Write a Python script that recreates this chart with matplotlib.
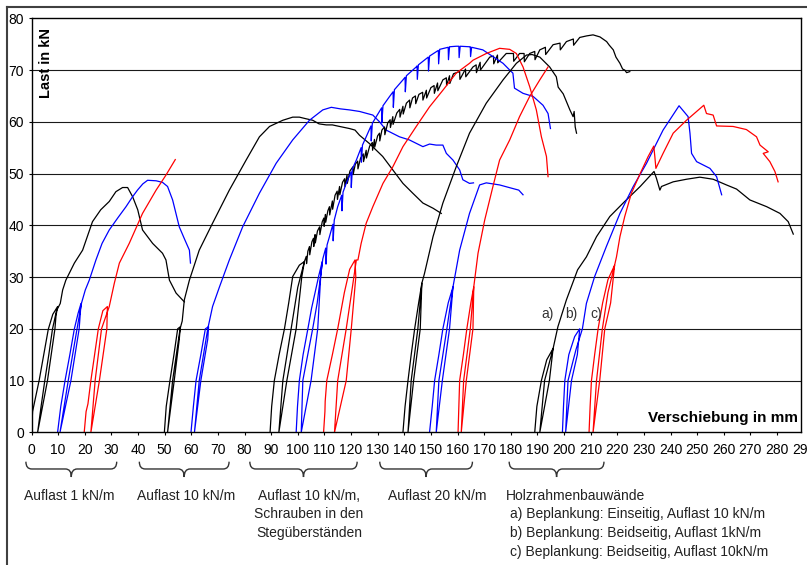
import numpy as np
import matplotlib.pyplot as plt
from matplotlib.path import Path
from matplotlib.patches import PathPatch
from matplotlib.lines import Line2D
from matplotlib.transforms import blended_transform_factory

plt.rcParams['font.family'] = ['Liberation Sans', 'DejaVu Sans']

# ---- load-displacement curves (x = Verschiebung mm, y = Last kN) ----
# Auflast 1 kN/m
g1_black = np.array([
    (0, 0), (0.4, 4.0), (1.3, 6.2), (2.9, 10.1), (4.6, 15.0), (6.3, 19.9), (8.0, 22.8), (9.8, 24.3),
    (9.2, 22.5), (8.8, 20.0), (6.0, 10.0), (2.3, 0), (3.6, 5.0), (5.0, 10.0), (6.5, 15.0), (7.9, 20.0),
    (9.4, 23.5), (10.8, 24.9), (11.7, 27.5), (12.9, 29.4), (16.1, 32.7), (19.2, 35.2), (22.9, 40.7),
    (26.0, 43.0), (29.2, 44.6), (31.7, 46.5), (34.2, 47.3), (36.1, 47.3), (38.0, 45.5), (39.9, 43.0),
    (41.7, 39.1), (45.5, 36.5), (49.2, 34.6), (50.5, 33.3), (51.8, 29.4), (54.3, 26.9), (57.4, 25.2)])
g1_blue = np.array([
    (9.8, 0), (11.0, 5), (12.6, 10), (14.4, 15), (16.1, 20), (17.5, 23), (18.6, 24.9), (17.9, 20),
    (14.8, 10), (10.7, 0), (13.8, 10), (17.1, 20), (18.8, 25.0), (20.2, 27.5), (21.7, 29.4), (24.2, 33.3),
    (26.5, 36.5), (29.2, 39.1), (32.5, 41.5), (35.5, 43.6), (37.8, 45.4), (39.8, 46.8), (41.8, 48.0),
    (43.6, 48.7), (46.8, 48.6), (49.2, 48.3), (51.1, 47.5), (53.0, 44.9), (55.5, 39.7), (57.5, 37.3),
    (59.3, 35.2), (59.7, 32.7)])
g1_red = np.array([
    (19.8, 0), (20.5, 4), (21.2, 5.5), (22.3, 10), (23.7, 15), (25.1, 20), (26.8, 23.5), (28.5, 24.3),
    (28.3, 20), (25.5, 10), (22.3, 0), (23.9, 10), (26.3, 20), (29.2, 24.3), (31.1, 28.8), (33.0, 32.7),
    (36.7, 36.5), (41.7, 42.3), (46.8, 46.8), (50.5, 49.7), (54.0, 52.7)])

# Auflast 10 kN/m
g2_black = np.array([
    (49.9, 0), (50.6, 5), (52.0, 10), (53.5, 15), (54.9, 20), (55.9, 20.4), (55.5, 18), (53.6, 10),
    (51.1, 0), (53.0, 10), (55.8, 20), (56.6, 21.5), (57.4, 25.6), (59.3, 29.4), (63.0, 35.2),
    (68.0, 40.4), (74.3, 46.8), (80.6, 52.6), (85.6, 57.1), (89.4, 59.1), (94.4, 60.3), (98.1, 60.9),
    (100.6, 60.9), (103.0, 60.6), (105.6, 60.3), (108.0, 59.6), (110.7, 59.4), (113.0, 59.4),
    (115.7, 59.1), (119.4, 58.7), (121.5, 58.4), (123.2, 57.4), (126.9, 55.8), (131.9, 53.3),
    (135.7, 50.7), (139.5, 48.1), (143.2, 46.2), (147.0, 44.3), (150.8, 43.3), (153.9, 42.3)])
g2_blue = np.array([
    (59.9, 0), (60.8, 5), (61.8, 10), (63.6, 15), (65.3, 20), (66.5, 20.4), (66.2, 18), (63.6, 10),
    (61.2, 0), (63.0, 10), (66.2, 20), (68.0, 24.3), (70.6, 28.1), (74.3, 33.3), (79.3, 39.7),
    (85.6, 46.2), (91.9, 52.0), (98.1, 56.5), (104.4, 60.3), (109.4, 62.3), (112.6, 62.8),
    (116.0, 62.5), (119.4, 62.3), (123.2, 62.0), (128.2, 61.3), (130.7, 60.0), (133.2, 58.4),
    (138.2, 57.1), (141.9, 56.5), (147.0, 55.2), (149.5, 55.7), (152.0, 55.5), (154.5, 55.5),
    (155.8, 53.9), (158.3, 52.6), (160.8, 50.7), (162.0, 48.8), (164.5, 48.1), (166.0, 48.2)])

# Auflast 10 kN/m, Schrauben in den Stegüberständen
g3_black = np.array([
    (89.6, 0), (90.2, 5), (91.2, 10), (93.0, 15), (95.0, 20), (96.6, 25), (98.1, 30.1), (100.6, 32.3),
    (102.5, 33.0), (101.5, 30), (99.4, 20), (95.9, 10), (92.9, 0), (94.4, 10), (97.5, 20), (100.0, 28),
    (102.5, 33.0), (103.2, 34.0), (103.3, 32.6), (103.8, 35.0), (104.4, 35.9), (104.5, 34.3),
    (105.3, 36.8), (105.9, 37.5), (106.0, 35.9), (106.5, 38.2), (106.6, 36.6), (107.4, 38.9),
    (108.2, 39.7), (108.3, 38.2), (109.2, 40.7), (109.8, 41.4), (109.9, 39.8), (110.4, 42.1),
    (110.5, 40.6), (111.3, 42.8), (111.9, 43.6), (112.0, 42.0), (113.0, 44.7), (113.1, 43.1),
    (114.0, 45.8), (114.8, 46.6), (114.9, 45.0), (115.7, 47.5), (115.8, 45.9), (116.8, 48.3),
    (117.6, 49.0), (117.7, 47.5), (118.5, 49.7), (118.6, 48.1), (119.6, 50.5), (120.7, 51.3),
    (120.8, 49.8), (121.6, 51.8), (122.5, 52.4), (122.6, 50.9), (123.6, 53.0), (124.6, 53.8),
    (124.7, 52.3), (125.7, 54.5), (125.8, 53.0), (127.0, 55.3), (128.0, 56.0), (128.1, 54.5),
    (128.8, 56.6), (128.9, 55.1), (130.0, 57.3), (130.7, 57.8), (130.8, 56.3), (131.6, 58.4),
    (132.6, 59.0), (132.7, 57.5), (133.8, 59.8), (134.7, 60.4), (134.8, 58.9), (135.7, 61.0),
    (135.8, 59.5), (137.2, 61.7), (138.3, 62.4), (138.4, 60.9), (139.5, 63.0), (139.6, 61.5),
    (140.8, 63.6), (142.0, 64.2), (142.1, 62.7), (143.1, 64.6), (144.2, 65.0), (144.3, 63.5),
    (145.5, 65.3), (146.9, 65.7), (147.0, 64.2), (148.3, 66.1), (148.4, 64.6), (150.0, 66.6),
    (151.2, 67.0), (151.3, 65.5), (152.5, 67.5), (152.6, 66.0), (154.5, 68.1), (155.8, 68.5),
    (155.9, 67.0), (157.0, 68.9), (157.1, 67.4), (158.5, 69.3), (160.8, 69.7), (160.9, 68.2),
    (163.0, 70.2), (163.1, 68.7), (165.8, 70.6), (167.0, 71.0), (167.1, 69.5), (168.5, 71.5),
    (168.6, 70.0), (172.1, 72.5), (173.5, 72.7), (173.6, 71.2), (175.0, 72.9), (175.1, 71.4),
    (178.3, 73.2), (181.0, 73.2), (181.1, 71.7), (183.3, 73.2), (185.0, 73.2), (185.1, 71.6),
    (187.1, 73.2), (189.0, 73.6), (189.1, 72.0), (190.9, 73.9), (193.0, 74.4), (193.1, 73.0),
    (195.9, 74.9), (198.5, 75.2), (198.6, 73.9), (200.9, 75.5), (203.5, 76.0), (203.6, 74.8),
    (205.9, 76.3), (208.5, 76.6), (210.9, 76.8), (213.5, 76.4), (216.0, 75.5), (217.0, 74.8),
    (218.5, 73.9), (219.5, 72.5), (221.0, 71.3), (222.0, 70.2), (222.8, 70.0), (223.5, 69.5),
    (224.7, 69.7)])
g3_blue = np.array([
    (99.4, 0), (99.9, 5), (100.6, 10), (102.0, 15), (103.8, 20), (105.2, 24), (106.5, 27), (108.0, 30.5),
    (109.2, 33.0), (108.6, 30), (107.5, 20), (105.0, 10), (101.3, 0), (101.9, 10), (105.6, 20),
    (107.3, 25), (109.4, 33.5), (110.5, 35.6), (110.6, 32.5), (111.0, 36.2), (111.9, 37.8),
    (113.2, 40.2), (113.3, 37.0), (113.7, 41.0), (115.0, 43.6), (116.5, 45.8), (116.6, 42.8),
    (117.0, 46.4), (118.2, 48.1), (120.0, 50.3), (120.1, 47.3), (120.5, 50.9), (122.0, 52.6),
    (123.8, 55.0), (123.9, 52.2), (124.3, 55.5), (125.7, 57.1), (127.5, 59.2), (127.6, 56.3),
    (128.0, 59.7), (129.5, 61.0), (131.5, 62.7), (131.6, 59.8), (132.0, 63.1), (134.5, 64.9),
    (135.8, 65.8), (135.9, 62.8), (136.3, 66.2), (139.5, 68.1), (140.3, 68.6), (140.4, 65.8),
    (140.8, 68.9), (144.5, 70.6), (144.8, 70.8), (144.9, 68.2), (145.3, 71.0), (149.0, 72.5),
    (149.1, 69.8), (149.5, 72.7), (152.8, 73.8), (152.9, 71.2), (153.3, 74.0), (156.5, 74.4),
    (156.6, 72.0), (157.0, 74.5), (159.5, 74.6), (160.5, 74.6), (160.6, 72.4), (161.0, 74.6),
    (164.5, 74.5), (164.8, 74.5), (164.9, 72.6), (165.3, 74.4), (169.5, 73.9), (173.3, 72.6),
    (177.1, 71.3), (179.6, 70.0), (180.8, 69.4), (181.4, 66.5), (184.6, 65.5), (188.4, 64.9),
    (192.1, 63.2), (194.0, 61.6), (194.9, 58.7)])
g3_red = np.array([
    (109.7, 0), (110.2, 4), (110.3, 6), (110.9, 10), (113.0, 15), (115.0, 20), (117.5, 27),
    (119.5, 31.5), (121.5, 33.3), (121.8, 30), (120.1, 20), (118.2, 10), (113.8, 0), (115.0, 10),
    (118.2, 20), (120.5, 28), (122.0, 33.3), (122.6, 33.3), (123.8, 36.5), (125.7, 40.4),
    (128.2, 43.6), (132.0, 48.1), (135.7, 51.3), (139.5, 55.2), (144.5, 59.1), (149.5, 62.9),
    (154.5, 66.1), (159.5, 69.4), (164.5, 71.3), (165.8, 71.9), (170.8, 73.2), (175.8, 74.2),
    (179.6, 74.0), (182.1, 73.2), (184.6, 70.6), (187.1, 66.8), (189.6, 62.3), (191.5, 57.1),
    (193.4, 53.3), (194.0, 49.4)])

# Auflast 20 kN/m
g4_black = np.array([
    (139.5, 0), (140.3, 5), (141.4, 10), (142.6, 15), (143.9, 20), (145.4, 25), (146.6, 28.8),
    (146.0, 20), (143.5, 10), (141.4, 0), (142.6, 10), (145.1, 20), (146.6, 28.8), (147.6, 30.7),
    (150.8, 37.8), (154.5, 44.3), (159.5, 51.3), (164.5, 57.8), (170.8, 63.6), (177.1, 68.1),
    (182.1, 71.3), (185.9, 72.9), (188.0, 73.0), (190.9, 72.5), (194.6, 70.6), (197.1, 68.7),
    (197.8, 66.7), (199.7, 65.4), (202.2, 62.3), (203.4, 61.0), (203.8, 62.0), (204.2, 59.0),
    (204.7, 57.8)])
g4_blue = np.array([
    (149.5, 0), (150.5, 5), (151.4, 10), (153.0, 15), (154.5, 20), (156.5, 25), (158.3, 28.1),
    (157.0, 20), (154.3, 10), (152.0, 0), (153.0, 10), (156.0, 20), (158.3, 28.1), (160.8, 35.2),
    (164.5, 42.3), (168.3, 47.8), (170.8, 48.2), (175.8, 47.8), (180.8, 47.1), (183.0, 46.8),
    (184.6, 45.9)])
g4_red = np.array([
    (160.2, 0), (160.5, 5), (160.8, 10), (162.2, 15), (163.5, 20), (165.0, 25), (166.1, 28.1),
    (165.8, 20), (163.3, 10), (161.4, 0), (162.3, 10), (164.8, 20), (166.1, 28.1), (167.7, 34.6),
    (170.2, 41.0), (173.3, 47.5), (175.8, 52.6), (179.6, 56.5), (183.3, 61.0), (187.1, 64.9),
    (190.9, 68.1), (194.0, 70.6)])

# Holzrahmenbauwände a), b), c)
g5_black = np.array([
    (189.0, 0), (189.8, 5), (191.5, 10), (193.5, 14), (195.9, 16.2), (194.5, 10), (190.9, 0),
    (192.7, 10), (195.9, 16.2), (197.7, 20.4), (200.9, 25.6), (205.1, 31.4), (208.4, 33.9),
    (212.2, 37.8), (217.2, 41.7), (222.2, 44.3), (228.6, 47.5), (233.8, 50.4), (234.7, 49.1),
    (236.0, 46.8), (236.6, 47.5), (241.0, 48.4), (246.0, 48.9), (251.0, 49.3), (256.0, 48.9),
    (261.0, 47.8), (264.8, 47.0), (269.8, 44.9), (276.1, 43.6), (281.1, 42.3), (284.2, 40.7),
    (286.1, 38.3)])
g5_blue = np.array([
    (199.4, 0), (199.8, 5), (200.3, 10), (201.8, 15), (204.0, 18.5), (205.9, 20.0), (205.0, 15),
    (202.8, 10), (200.6, 0), (201.5, 10), (204.5, 16), (206.9, 20.0), (208.4, 24.9), (211.5, 30.1),
    (215.9, 35.9), (221.0, 42.3), (226.0, 47.5), (231.0, 52.0), (237.2, 58.4), (243.2, 63.1),
    (246.6, 61.0), (247.3, 57.8), (247.9, 53.9), (249.8, 52.3), (254.8, 51.0), (257.3, 49.4),
    (259.2, 45.9)])
g5_red = np.array([
    (209.4, 0), (209.8, 5), (210.3, 10), (211.5, 15), (212.8, 20), (214.5, 25), (216.5, 29.5),
    (219.0, 32.3), (217.5, 25), (215.3, 20), (213.4, 10), (210.9, 0), (212.2, 10), (214.4, 20),
    (216.5, 27), (219.0, 32.3), (219.7, 33.9), (221.0, 37.8), (222.8, 41.7), (225.3, 46.2),
    (228.6, 50.0), (231.6, 53.3), (233.7, 55.3), (234.1, 53.3), (234.5, 51.0), (237.2, 53.9),
    (241.0, 57.8), (246.0, 60.3), (252.5, 63.2), (253.5, 61.6), (256.0, 61.3), (257.3, 59.2),
    (263.5, 59.1), (268.5, 58.5), (272.3, 57.1), (273.6, 55.5), (276.7, 54.2), (274.8, 53.9),
    (277.3, 52.3), (279.2, 50.4), (280.4, 48.4)])

curves = [
    (g1_black, 'black'), (g1_blue, 'blue'), (g1_red, 'red'),
    (g2_black, 'black'), (g2_blue, 'blue'),
    (g3_black, 'black'), (g3_blue, 'blue'), (g3_red, 'red'),
    (g4_black, 'black'), (g4_blue, 'blue'), (g4_red, 'red'),
    (g5_black, 'black'), (g5_blue, 'blue'), (g5_red, 'red'),
]

# brace spans under the x axis (mm)
brace_spans = [(-2.1, 32.0), (40.5, 74.2), (82.0, 122.3), (130.8, 165.6), (179.4, 215.0)]

W, H = 807, 565
fig = plt.figure(figsize=(W / 100, H / 100), dpi=100)
ax = fig.add_axes([31.5 / W, 1 - 432.3 / H, (801 - 31.5) / W, (432.3 - 18.3) / H])

for y in range(10, 80, 10):
    ax.axhline(y, color='#1a1a1a', lw=0.8, zorder=0)

for pts, c in curves:
    ax.plot(pts[:, 0], pts[:, 1], color=c, lw=0.9)

ax.set_xlim(0, 289)
ax.set_ylim(0, 80)
ax.set_xticks(np.arange(0, 290, 10))
ax.set_yticks(np.arange(0, 81, 10))
ax.tick_params(axis='x', direction='out', length=2.2, width=0.8, pad=5.5, labelsize=10)
ax.tick_params(axis='y', direction='out', length=2.2, width=0.8, pad=3.2, labelsize=10)
for s in ax.spines.values():
    s.set_linewidth(1.0)
ax.annotate('290', xy=(290, 0), xycoords=('data', 'axes fraction'), xytext=(0, -7.7),
            textcoords='offset points', ha='center', va='top', fontsize=10, annotation_clip=False)

ax.text(0.0188, 0.9766, 'Last in kN', transform=ax.transAxes, rotation=90,
        ha='center', va='top', fontsize=10.5, fontweight='bold')
ax.text(0.9961, 0.0345, 'Verschiebung in mm', transform=ax.transAxes,
        ha='right', va='center', fontsize=11, fontweight='bold')

for lab, xx in [('a)', 193.7), ('b)', 202.9), ('c)', 212.2)]:
    ax.text(xx, 22.9, lab, ha='center', va='center', fontsize=10, color='#333333')

# curly braces
tr = blended_transform_factory(ax.transData, ax.transAxes)
yt, ym, yb = -0.071, -0.0886, -0.108
r = 2.2
for x0, x1 in brace_spans:
    xc = (x0 + x1) / 2
    verts = [(x0, yt), (x0, ym), (x0 + r, ym), (xc - r, ym), (xc, ym), (xc, yb),
             (xc, ym), (xc + r, ym), (x1 - r, ym), (x1, ym), (x1, yt)]
    codes = [Path.MOVETO, Path.CURVE3, Path.CURVE3, Path.LINETO, Path.CURVE3, Path.CURVE3,
             Path.CURVE3, Path.CURVE3, Path.LINETO, Path.CURVE3, Path.CURVE3]
    ax.add_patch(PathPatch(Path(verts, codes), transform=tr, fill=False, lw=1.0,
                           edgecolor='#333333', clip_on=False))

# group captions
def ftext(x, y, s, ha='center'):
    fig.text(x / W, 1 - y / H, s, ha=ha, va='center', fontsize=10, color='#222222')

ftext(69.5, 496, 'Auflast 1 kN/m')
ftext(186, 496, 'Auflast 10 kN/m')
ftext(309, 496, 'Auflast 10 kN/m,')
ftext(309, 514.5, 'Schrauben in den')
ftext(309, 533, 'Stegüberständen')
ftext(437, 496, 'Auflast 20 kN/m')
ftext(506, 496, 'Holzrahmenbauwände', ha='left')
ftext(509.5, 514.3, 'a) Beplankung: Einseitig, Auflast 10 kN/m', ha='left')
ftext(509.5, 532.7, 'b) Beplankung: Beidseitig, Auflast 1kN/m', ha='left')
ftext(509.5, 551.7, 'c) Beplankung: Beidseitig, Auflast 10kN/m', ha='left')

# outer chart frame (left and top edges visible)
fig.add_artist(Line2D([7 / W, 7 / W], [0, 1 - 7 / H], transform=fig.transFigure, color='#404040', lw=1.5))
fig.add_artist(Line2D([7 / W, 1], [1 - 7 / H, 1 - 7 / H], transform=fig.transFigure, color='#404040', lw=1.5))

fig.savefig('out.png', dpi=100)
